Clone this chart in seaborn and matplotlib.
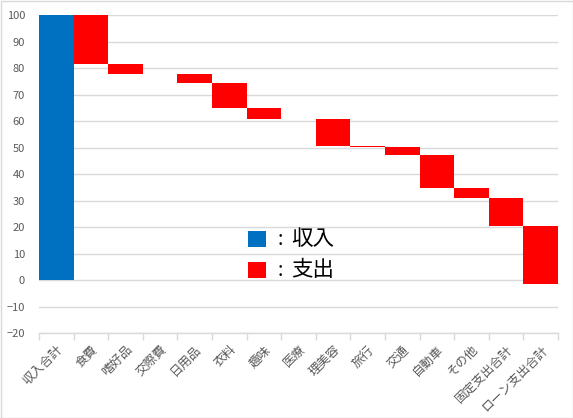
"""Waterfall chart of household income and expenses."""

import matplotlib.pyplot as plt
import numpy as np
import seaborn as sns
from matplotlib.patches import Rectangle

categories = [
    "収入合計", "食費", "嗜好品", "交際費", "日用品", "衣料", "趣味", "医療",
    "理美容", "旅行", "交通", "自動車", "その他", "固定支出合計", "ローン支出合計",
]
income_total = 100.0
expenses = [18.5, 3.6, 0.2, 3.3, 9.4, 4.1, 0.2, 10.0, 0.3, 3.1, 12.5, 3.7, 10.6, 21.9]
y_ticks = list(range(-20, 101, 10))
legend_labels = ["収入", "支出"]

INCOME_COLOR = "#0070C0"
EXPENSE_COLOR = "#FF0000"
GRID_COLOR = "#D9D9D9"
TEXT_COLOR = "#595959"


def main() -> None:
    sns.set_theme(style="white")
    plt.rcParams["font.family"] = ["Noto Sans CJK JP", "DejaVu Sans"]

    bottoms = income_total - np.cumsum(expenses)

    fig = plt.figure(figsize=(5.73, 4.18), dpi=100)
    ax = fig.add_axes([0.068, 0.2026, 0.906, 0.7615])

    sns.barplot(
        x=categories[:1], y=[income_total], order=categories,
        color=INCOME_COLOR, width=1.0, saturation=1, ax=ax, zorder=3,
    )
    sns.barplot(
        x=categories[1:], y=expenses, order=categories, bottom=bottoms,
        color=EXPENSE_COLOR, width=1.0, saturation=1, ax=ax, zorder=3,
    )
    for patch in ax.patches:
        patch.set_edgecolor("none")
        patch.set_linewidth(0)

    ax.set_xlim(-0.5, len(categories) - 0.5)
    ax.set_ylim(-20, 100)
    ax.set_yticks(y_ticks)
    ax.yaxis.grid(True, color=GRID_COLOR, linewidth=1, zorder=0)
    ax.set_axisbelow(True)
    ax.set_xlabel("")
    ax.set_ylabel("")

    for side in ["left", "right", "top"]:
        ax.spines[side].set_visible(False)
    ax.spines["bottom"].set_color(GRID_COLOR)
    ax.spines["bottom"].set_linewidth(1)

    ax.tick_params(axis="y", length=0, pad=10, labelsize=8, labelcolor=TEXT_COLOR)
    ax.set_xticks(np.arange(len(categories)))
    ax.set_xticklabels(categories, rotation=45, ha="right", rotation_mode="anchor")
    ax.tick_params(axis="x", which="major", length=0, pad=7, labelsize=9,
                   labelcolor=TEXT_COLOR)
    ax.set_xticks(np.arange(len(categories) + 1) - 0.5, minor=True)
    ax.tick_params(axis="x", which="minor", length=5, width=1, color=GRID_COLOR,
                   direction="out", bottom=True)

    # hand-drawn legend like the original text boxes
    for i, (label, color) in enumerate(zip(legend_labels, [INCOME_COLOR, EXPENSE_COLOR])):
        top = 1 - (231 + 31 * i) / 418
        mid = top - 8 / 418
        fig.patches.append(Rectangle(
            (248 / 573, top - 16 / 418), 18 / 573, 16 / 418,
            transform=fig.transFigure, facecolor=color, edgecolor="none",
        ))
        fig.text(280 / 573, mid, ":", fontsize=14, color="black",
                 va="center", ha="center")
        fig.text(291 / 573, mid, label, fontsize=15.5, color="black",
                 va="center", ha="left")

    fig.patches.append(Rectangle(
        (0.5 / 573, 0.5 / 418), 1 - 1 / 573, 1 - 1 / 418,
        transform=fig.transFigure, facecolor="none", edgecolor=GRID_COLOR, linewidth=1,
    ))
    fig.savefig("out.png", dpi=100)
    plt.close(fig)


if __name__ == "__main__":
    main()
